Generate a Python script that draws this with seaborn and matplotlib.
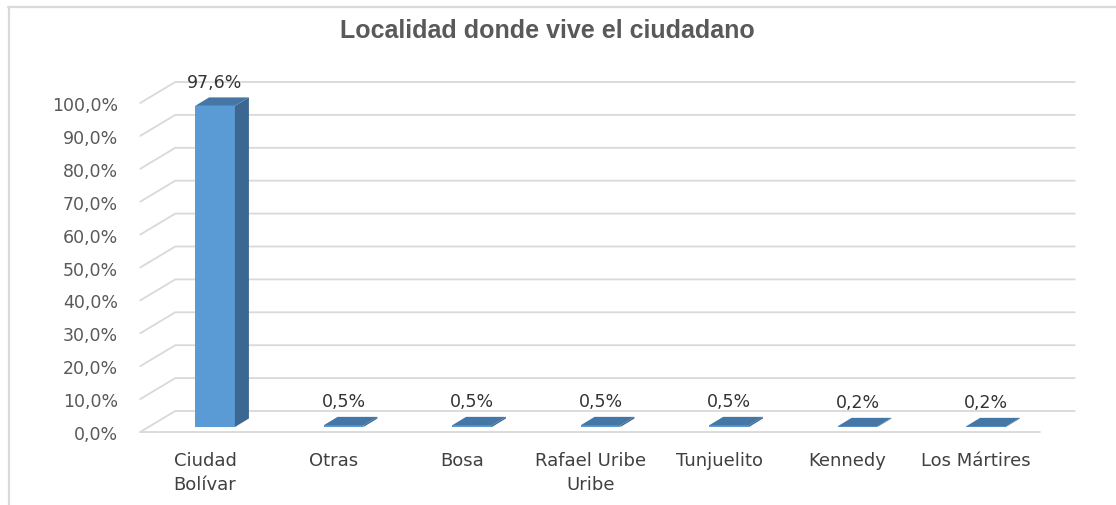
import seaborn as sns
import matplotlib.pyplot as plt
import matplotlib.transforms as mtransforms
from matplotlib.lines import Line2D
from matplotlib.patches import Polygon
import pandas as pd

# datos
localidades = ["Ciudad\nBolívar", "Otras", "Bosa", "Rafael Uribe\nUribe",
               "Tunjuelito", "Kennedy", "Los Mártires"]
porcentajes = [97.6, 0.5, 0.5, 0.5, 0.5, 0.2, 0.2]
y_ticks = [0, 10, 20, 30, 40, 50, 60, 70, 80, 90, 100]
titulo = "Localidad donde vive el ciudadano"

W, H = 1116, 506
FRONT = "#5B9BD5"
SIDE = "#3B6790"
TOP = "#4676A6"
GRID = "#D9D9D9"

sns.set_theme(style="white")
plt.rcParams['font.family'] = ['DejaVu Sans']

fig = plt.figure(figsize=(W / 100, H / 100), dpi=100)
# ejes en el plano frontal de las barras
ax = fig.add_axes([150.75 / W, (H - 428) / H, 899.5 / W, 329 / H])

df = pd.DataFrame({"localidad": localidades, "pct": porcentajes})
sns.barplot(data=df, x="localidad", y="pct", color=FRONT, saturation=1,
            width=0.31, edgecolor="none", linewidth=0, ax=ax, zorder=3)

ax.set_xlim(-0.5, len(localidades) - 0.5)
ax.set_ylim(0, 100)
for s in ax.spines.values():
    s.set_visible(False)
ax.patch.set_visible(False)
ax.set_xlabel("")
ax.set_ylabel("")
ax.set_yticks(y_ticks)
ax.set_yticklabels([("%.1f%%" % t).replace(".", ",") for t in y_ticks])
ax.tick_params(axis="y", length=0, pad=23.6, labelsize=12.5, labelcolor="#595959")
ax.tick_params(axis="x", length=0, pad=17, labelsize=13, labelcolor="#404040")

# desplazar etiquetas al plano frontal del piso
for lab in ax.get_yticklabels():
    lab.set_transform(lab.get_transform() +
                      mtransforms.ScaledTranslation(0, -5 / 100, fig.dpi_scale_trans))
for lab in ax.get_xticklabels():
    lab.set_linespacing(1.45)
    lab.set_transform(lab.get_transform() +
                      mtransforms.ScaledTranslation(-10 / 100, 0, fig.dpi_scale_trans))

to_disp = ax.transData.transform
ident = mtransforms.IdentityTransform()

# paredes 3D: lineas de cuadricula
FX, FY = -10.5, -5
BX, BY = 24.5, 16
x_lo, x_hi = ax.get_xlim()
for t in y_ticks:
    xl, y = to_disp((x_lo, t))
    xr, _ = to_disp((x_hi, t))
    ln = Line2D([xl + FX, xl + BX, xr + BX], [y + FY, y + BY, y + BY],
                transform=ident, color=GRID, lw=1.3, zorder=1, clip_on=False)
    ax.add_artist(ln)
xl, y0 = to_disp((x_lo, 0))
xr, _ = to_disp((x_hi, 0))
ax.add_artist(Line2D([xl + FX, xr + FX], [y0 + FY, y0 + FY], transform=ident,
                     color=GRID, lw=1.3, zorder=1, clip_on=False))

# caras lateral y superior de las barras
DX, DY = 14, 8.5
for p in list(ax.patches):
    L, B = to_disp((p.get_x(), 0))
    R, T = to_disp((p.get_x() + p.get_width(), p.get_height()))
    side = Polygon([(R, B), (R + DX, B + DY), (R + DX, T + DY), (R, T)],
                   closed=True, transform=ident, facecolor=SIDE,
                   edgecolor="none", zorder=3, clip_on=False)
    top = Polygon([(L, T), (R, T), (R + DX, T + DY), (L + DX, T + DY)],
                  closed=True, transform=ident, facecolor=TOP,
                  edgecolor="none", zorder=4, clip_on=False)
    ax.add_artist(side)
    ax.add_artist(top)

# etiquetas de datos
for i, v in enumerate(porcentajes):
    ax.annotate(("%.1f%%" % v).replace(".", ","), xy=(i, v), xytext=(0, 24),
                textcoords="offset pixels", ha="center", va="center",
                fontsize=12.5, color="#333333")

fig.text(547 / W, 1 - 31 / H, titulo, ha="center", va="center",
         fontsize=18, fontweight="bold", color="#595959",
         family=["Liberation Sans", "DejaVu Sans"])

# borde del area del grafico
fig.add_artist(Line2D([8 / W, 1], [1 - 8 / H, 1 - 8 / H], transform=fig.transFigure,
                      color=GRID, lw=1.6))
fig.add_artist(Line2D([9 / W, 9 / W], [0, 1 - 8 / H], transform=fig.transFigure,
                      color=GRID, lw=1.6))

fig.savefig("out.png", dpi=100)
